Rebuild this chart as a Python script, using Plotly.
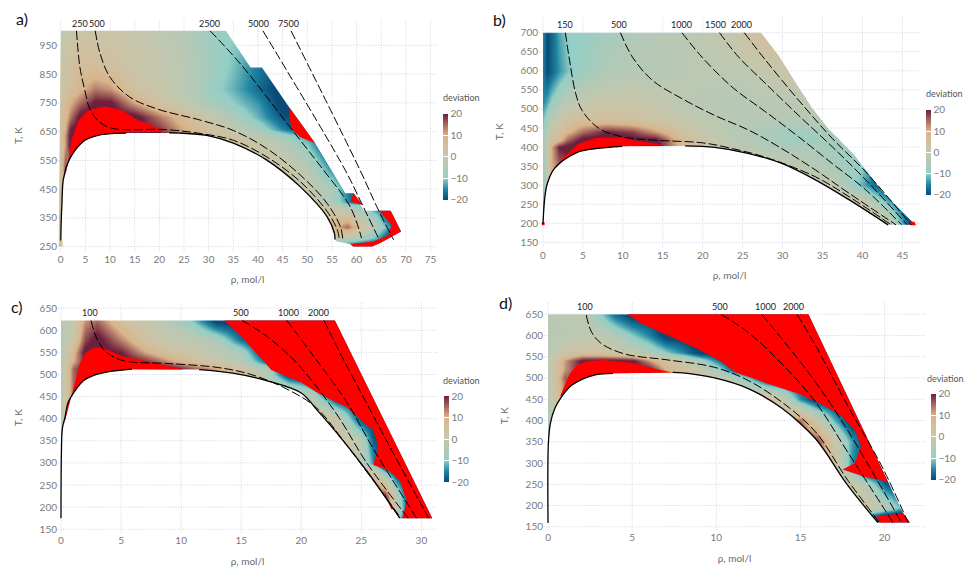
import numpy as np
import plotly.graph_objects as go

W, H = 964, 572
FONT = "Lato"
COLORSCALE = [[0, "#0a4a78"], [0.125, "#1f86a3"], [0.25, "#93cfc6"], [0.375, "#b2c9b8"],
              [0.5, "#c4c7ad"], [0.625, "#d0c09f"], [0.75, "#d9b48a"], [0.875, "#a8695f"], [1, "#6e1f3d"]]
RED = "#ff0000"

# ---------- panel a ----------
a_rho = [0, 1, 2, 4, 7, 10, 15, 20, 25, 30, 35, 40, 45, 50, 55, 58, 61, 64, 67, 70]
a_T = [250, 280, 320, 360, 395, 405, 450, 520, 600, 640, 660, 700, 750, 800, 870, 1000]
a_z = [
    [5, 5, 5, 5, 5, 5, 5, 5, 5, 5, 5, 5, 5, 5, -10, -20, -22, -22, -22, -22],
    [5, 5, 5, 5, 5, 5, 5, 5, 5, 5, 5, 5, 5, 5, 0, -3, -7, -12, -22, -22],
    [5, 5, 5, 5, 5, 5, 5, 5, 5, 5, 5, 5, 5, 5, 8, 15, 4, -5, -15, -22],
    [5, 5, 5, 5, 5, 5, 5, 5, 5, 5, 5, 5, 5, 5, 5, 4, -3, -10, -22, -22],
    [5, 5, 5, 5, 5, 5, 5, 5, 5, 5, 5, 5, 5, 5, -1, -8, -10, -18, -22, -22],
    [5, 5, 5, 5, 5, 5, 5, 5, 5, 5, 5, 5, 5, 2, -6, -14, -20, -22, -22, -22],
    [5, 5, 5, 5, 5, 5, 5, 5, 5, 5, 5, 5, 5, 0, -6, -16, -22, -22, -22, -22],
    [3, 18, 5, 5, 5, 5, 5, 5, 5, 5, 5, 5, 3, -3, -15, -22, -22, -22, -22, -22],
    [4, 12, 22, 22, 22, 22, 22, 22, 10, 8, 6, 2, -3, -10, -22, -22, -22, -22, -22, -22],
    [5, 12, 22, 22, 22, 22, 22, 22, 12, 6, 2, -3, -8, -14, -22, -22, -22, -22, -22, -22],
    [5, 10, 20, 22, 22, 22, 22, 18, 10, 4, -1, -7, -15, -22, -22, -22, -22, -22, -22, -22],
    [4, 8, 14, 22, 22, 22, 22, 14, 7, 1, -6, -12, -19, -22, -22, -22, -22, -22, -22, -22],
    [3, 7, 10, 15, 21, 21, 11, 4, -1, -6, -10, -14, -22, -22, -22, -22, -22, -22, -22, -22],
    [2, 4, 6, 9, 14, 12, 4, 1, -3, -8, -12, -17, -22, -22, -22, -22, -22, -22, -22, -22],
    [1, 3, 5, 7, 6, 5, 2, 0, -3, -7, -11, -16, -20, -22, -22, -22, -22, -22, -22, -22],
    [-1, 0, 1, 2, 2, 2, 1, -2, -4, -8, -10, -10, -10, -10, -10, -10, -10, -10, -10, -10],
]
a_dome_rho = [0.02, 0.1, 0.25, 0.53, 1.54, 2.9, 4.9, 7.6, 11, 13.3, None, 22, 24, 29.6, 35, 41.8, 48.6, 54, 55.5, 55.6]
a_dome_T = [272, 340, 400, 484, 545, 585, 620, 637, 644, 645, None, 646, 645, 637, 610, 551, 458, 355, 297, 275]
a_edge_rho = [33.5, 38.5, 40.8, 46.4, 51.6, 57.7, 59.4, 61.5, 66.9, 69, 64.8, 63.1, 59.3, 58.7, 57, 56]
a_edge_T = [1000, 873, 873, 733, 610, 436, 436, 375, 375, 303, 263, 251, 251, 260, 265, 268]
a_isobars = {
    "250": ([3.2, 3.9, 4.9, 5.9, 7.5, 10.3, 21.5, 28.5, 35, 41.8, 48.6, 54.3, 56.3, 56.4],
            [1000, 873, 793, 729, 689, 662, 657, 643, 620, 562, 476, 366, 297, 275]),
    "500": ([7, 8, 10, 14, 19.5, 28.5, 35, 41.8, 48.6, 54, 56.7, 57.2],
            [1000, 920, 839, 770, 729, 689, 654, 591, 499, 401, 320, 275]),
    "2500": ([30.3, 36.7, 47.2, 53.3, 58.7, 61], [1000, 880, 650, 516, 389, 280]),
    "5000": ([41, 57.7, 60.7, 64.6], [1000, 516, 412, 274]),
    "7500": ([46.7, 60.7, 64.1, 67.5], [1000, 516, 389, 274]),
}
a_label_rho = [3.9, 7.4, 30.2, 40.2, 46.1]
a_red = [
    ([0.7, 1.2, 2.2, 3.6, 5.6, 9, 12.4, 15.7, 18.2, 21, 13.5, 13.3, 11, 7.6, 4.9, 2.9, 1.54, 0.53],
     [491, 516, 620, 689, 724, 738, 724, 689, 675, 650, 648, 645, 644, 637, 620, 585, 545, 484]),
    ([46.4, 51.6, 48.5, 46.8, 46.4], [733, 610, 631, 660, 700]),
    ([59.4, 61.3, 58.7], [436, 395, 407]),
    ([64.4, 66.9, 69, 64.8, 63.1, 59.3, 58.7, 59, 63.4, 66.5, 67.1, 64.8],
     [375, 375, 303, 263, 251, 251, 260, 260, 268, 291, 326, 372]),
]

# ---------- panel b ----------
b_rho = [0, 0.5, 1, 2, 3, 5, 8, 11, 14, 17, 20, 24, 28, 32, 36, 40, 43, 46]
b_T = [195, 250, 300, 350, 400, 420, 440, 470, 520, 600, 700]
b_z = [
    [-15, -5, 5, 5, 5, 5, 5, 5, 5, 5, 5, 5, 5, 5, 3, 3, 3, -20],
    [-12, -5, 5, 5, 5, 5, 5, 5, 5, 5, 5, 5, 5, 3, 3, 3, -10, -22],
    [-10, 0, 5, 5, 5, 5, 5, 5, 5, 5, 5, 5, 5, 2, 0, -12, -22, -22],
    [-10, 0, 10, 15, 15, 5, 5, 5, 5, 5, 5, 5, 1, -2, -6, -10, -22, -22],
    [-9, 3, 10, 20, 22, 22, 22, 22, 22, 10, 0, -2, -5, -6, -7, -9, -14, -14],
    [-8, 0, 4, 8, 15, 22, 22, 22, 22, 8, 2, -3, -6, -8, -7, -7, -7, -7],
    [-10, -3, 2, 5, 9, 15, 20, 18, 12, 5, 0, -4, -6, -8, -6, -5, -5, -5],
    [-11, -7, -3, 1, 4, 6, 6, 5, 3, 0, -2, -4, -4, -4, -3, -3, -3, -3],
    [-15, -13, -10, -6, -3, -1, 1, 1, 0, -2, -3, -4, -3, -2, -1, -1, -1, -1],
    [-16, -20, -18, -14, -11, -8, -5, -4, -4, -3, -2, -2, 0, 3, 6, 6, 6, 6],
    [-15, -20, -18, -13, -10, -9, -7, -5, -4, -3, -2, 1, 7, 9, 9, 9, 9, 9],
]
b_dome_rho = [0.0, 0.2, 0.5, 1.3, 2.6, 4.5, 6.6, 9.9, None, 17.8, 21.5, 25.8, 29.9, 34.1, 38.3, 43.2]
b_dome_T = [198, 262, 301, 340, 366, 388, 396, 402, None, 403, 399, 383, 357, 314, 262, 196]
b_edge_rho = [27.3, 29.5, 31.6, 33.6, 35.7, 38.9, 42.5, 46.6]
b_edge_T = [700, 640, 570, 505, 449, 381, 283, 196]
b_isobars = {
    "150": ([2.8, 3.4, 4.1, 4.9, 7, 9.9, 14, 20, 23.7, 27.9, 34.1, 38.3, 43.6],
            [700, 618, 540, 496, 449, 427, 418, 411, 396, 373, 322, 270, 196]),
    "500": ([9.7, 11.2, 13.7, 17.4, 21.5, 25.8, 29.9, 34.1, 38.3, 44.2],
            [700, 636, 575, 527, 483, 444, 396, 340, 279, 196]),
    "1000": ([17.4, 19.9, 23.7, 27.9, 32, 36.2, 40.4, 44.9], [700, 636, 557, 492, 427, 357, 288, 196]),
    "1500": ([22.1, 24.5, 27.9, 32, 36.2, 40.4, 45.6], [700, 636, 566, 483, 401, 314, 196]),
    "2000": ([25.2, 27.9, 32, 36.2, 40.4, 46.1], [700, 627, 523, 423, 335, 196]),
}
b_label_rho = [2.7, 9.5, 17.3, 21.6, 24.8]
b_red = [
    ([1.3, 2.4, 4.5, 6.6, 9.9, 11.2, 15, 9.9, 6.6, 4.5, 2.6], [340, 370, 409, 424, 425, 418, 406, 402, 396, 388, 366]),
    ([-0.15, 0.2, 0.2, -0.15], [195, 195, 203, 203]),
    ([45.9, 46.7, 46.5, 46], [195, 195, 204, 204]),
]

# ---------- panel c ----------
c_rho = [0, 1, 2, 3, 5, 7, 9, 11, 13, 15, 17, 19, 21, 23, 25, 26, 27, 28, 29, 31]
c_T = [175, 200, 225, 250, 280, 293, 300, 350, 400, 450, 500, 515, 530, 550, 580, 622]
c_z = [
    [-4, 0, 0, 0, 0, 0, 0, 0, 0, 0, 0, 0, 0, 0, 0, 0, 20, -8, -22, -22],
    [-4, 0, 0, 0, 0, 0, 0, 0, 0, 0, 0, 0, 0, 0, 0, 0, 20, -2, -22, -22],
    [-4, 0, 0, 0, 0, 0, 0, 0, 0, 0, 0, 0, 0, 0, 5, 8, 20, -5, -22, -22],
    [-4, 0, 0, 0, 0, 0, 0, 0, 0, 0, 0, 0, 0, 0, 8, 16, 6, -12, -22, -22],
    [-4, 0, 0, 0, 0, 0, 0, 0, 0, 0, 0, 0, 0, 0, 5, 2, -12, -22, -22, -22],
    [-4, 0, 0, 0, 0, 0, 0, 0, 0, 0, 0, 0, 0, 0, 3, -6, -22, -22, -22, -22],
    [-4, 0, 0, 0, 0, 0, 0, 0, 0, 0, 0, 0, 0, 8, -2, -14, -22, -22, -22, -22],
    [-4, 10, 10, 10, 10, 10, 10, 10, 10, 10, 10, 10, 10, 6, -3, -18, -22, -22, -22, -22],
    [-4, 12, 12, 12, 12, 12, 12, 12, 12, 12, 12, 12, 8, 0, -20, -22, -22, -22, -22, -22],
    [-4, 15, 15, 15, 15, 15, 15, 15, 12, 10, 8, 6, -6, -22, -22, -22, -22, -22, -22, -22],
    [-4, 15, 22, 22, 22, 22, 22, 18, 12, 6, -3, -22, -22, -22, -22, -22, -22, -22, -22, -22],
    [-4, 15, 22, 22, 22, 22, 22, 16, 10, 4, -6, -22, -22, -22, -22, -22, -22, -22, -22, -22],
    [-4, 10, 20, 22, 22, 19, 12, 6, 1, -4, -16, -22, -22, -22, -22, -22, -22, -22, -22, -22],
    [-4, 8, 22, 22, 20, 11, 5, 1, -2, -6, -22, -22, -22, -22, -22, -22, -22, -22, -22, -22],
    [-4, 2, 17, 22, 13, 4, 0, -2, -6, -17, -22, -22, -22, -22, -22, -22, -22, -22, -22, -22],
    [-3, 0, 12, 15, 5, 0, -4, -11, -22, -22, -22, -22, -22, -22, -22, -22, -22, -22, -22, -22],
]
c_dome_rho = [0.0, 0.03, 0.11, 0.33, 0.6, 1.16, 1.86, 2.83, 3.9, 5.9, None, 11.5, 14.3, 17.1, 20, 21.3, 22.8, 25.5, 28.2]
c_dome_T = [175, 317, 377, 403, 437, 463, 486, 499, 506, 512, None, 511, 503, 486, 458, 420, 373, 280, 175]
c_edge_rho = [22.8, 30.9]
c_edge_T = [622, 175]
c_isobars = {
    "100": ([2.5, 3, 3.8, 5.2, 8.8, 13, 15.7, 18.5, 21.2, 24, 28.3],
            [622, 580, 550, 531, 525, 516, 501, 471, 426, 332, 175]),
    "500": ([15.1, 17.1, 19.3, 21.2, 23.2, 25.4, 28.9], [622, 587, 535, 475, 400, 302, 175]),
    "1000": ([18.8, 21.2, 23.8, 26, 29.6], [622, 535, 437, 332, 175]),
    "2000": ([21.9, 23.2, 25.4, 27.6, 30.6], [622, 550, 437, 325, 175]),
}
c_label_rho = [2.4, 15, 18.9, 21.4]
c_red = [
    ([13.6, 22.8, 30.9, 28.4, 28.8, 28.2, 27.2, 26, 26.3, 26.3, 26, 25, 23.8, 21.5, 20, 17.5, 17.1, 15.2],
     [622, 622, 175, 175, 213, 261, 284, 295, 325, 347, 373, 396, 426, 456, 482, 510, 523, 580]),
    ([0.27, 0.75, 1.16, 1.6, 2.1, 2.83, 3.66, 5, 7, 8.3, 10.2, 5.9, 3.9, 2.83, 1.86, 1.16, 0.6, 0.33],
     [388, 437, 482, 527, 550, 561, 559, 542, 531, 523, 511, 512, 506, 499, 486, 463, 437, 403]),
    ([26.6, 27.2, 27.7, 27.5], [250, 215, 195, 195]),
]

# ---------- panel d ----------
d_rho = [0, 1, 2, 3, 4, 5, 6, 7, 8, 9, 10, 11, 12, 13, 14, 15, 16, 17, 18, 19, 20, 21, 22]
d_T = [160, 180, 195, 250, 280, 290, 350, 400, 450, 500, 520, 540, 560, 600, 650]
d_z = [
    [-3, 0, 0, 0, 0, 0, 0, 0, 0, 0, 0, 0, 0, 0, 0, 0, 0, 0, 0, -15, -22, -22, -22],
    [-3, 0, 0, 0, 0, 0, 0, 0, 0, 0, 0, 0, 0, 0, 0, 0, 0, 0, 0, -12, -20, -22, -22],
    [-3, 0, 0, 0, 0, 0, 0, 0, 0, 0, 0, 0, 0, 0, 0, 0, 0, 0, 5, 3, -3, -12, -12],
    [-3, 0, 0, 0, 0, 0, 0, 0, 0, 0, 0, 0, 0, 0, 0, 0, 0, 8, 2, -5, -18, -22, -22],
    [-3, 0, 0, 0, 0, 0, 0, 0, 0, 0, 0, 0, 0, 0, 0, 0, 0, 5, -8, -22, -22, -22, -22],
    [-3, 0, 0, 0, 0, 0, 0, 0, 0, 0, 0, 0, 0, 0, 0, 0, 10, 6, -14, -22, -22, -22, -22],
    [-3, 0, 0, 0, 0, 0, 0, 0, 0, 0, 0, 0, 0, 0, 0, 15, 18, 2, -13, -22, -22, -22, -22],
    [-5, 0, 0, 0, 0, 0, 0, 0, 0, 0, 0, 0, 0, 0, 10, 15, 2, -12, -22, -22, -22, -22, -22],
    [-3, 12, 5, 5, 5, 5, 5, 5, 5, 5, 5, 5, 8, 8, -1, -14, -22, -22, -22, -22, -22, -22, -22],
    [-3, 16, 15, 15, 15, 15, 15, 15, 10, 4, 1, -5, -12, -22, -22, -22, -22, -22, -22, -22, -22, -22, -22],
    [-3, 12, 21, 22, 22, 22, 21, 10, 5, 0, -6, -18, -22, -22, -22, -22, -22, -22, -22, -22, -22, -22, -22],
    [-1, 12, 21, 22, 22, 21, 12, 4, 0, -6, -15, -22, -22, -22, -22, -22, -22, -22, -22, -22, -22, -22, -22],
    [-3, 2, 5, 4, 2, -1, -5, -10, -15, -22, -22, -22, -22, -22, -22, -22, -22, -22, -22, -22, -22, -22, -22],
    [-3, -3, -2, -2, -5, -10, -15, -22, -22, -22, -22, -22, -22, -22, -22, -22, -22, -22, -22, -22, -22, -22, -22],
    [-3, -2, -2, -9, -17, -22, -22, -22, -22, -22, -22, -22, -22, -22, -22, -22, -22, -22, -22, -22, -22, -22, -22],
]
d_dome_rho = [0.0, 0.02, 0.14, 0.4, 0.79, 1.38, 2.08, 2.87, 3.86, None, 7.4, 8.0, 9.9, 11.9, 13.9, 15.9, 17.8, 19.6]
d_dome_T = [159, 346, 393, 428, 455, 482, 498, 508, 511, None, 513, 512, 500, 475, 429, 357, 248, 160]
d_edge_rho = [15.47, 20.2, 21.1, 21.5]
d_edge_T = [650, 256, 182, 160]
d_isobars = {
    "100": ([2.27, 2.6, 3.2, 4.6, 7, 9.9, 11.9, 13.9, 15.9, 17.8, 19.7],
            [648, 607, 580, 556, 543, 525, 494, 443, 373, 260, 160]),
    "500": ([10.3, 11.9, 13.9, 15.9, 17.8, 20.5], [649, 607, 533, 443, 326, 160]),
    "1000": ([12.7, 13.9, 15.9, 17.8, 21.0], [649, 592, 490, 377, 160]),
    "2000": ([14.8, 15.9, 17.8, 19.8, 21.4], [649, 576, 435, 295, 160]),
}
d_label_rho = [2.2, 10.2, 12.9, 14.6]
d_red = [
    ([4.7, 15.47, 20.2, 18.8, 17.5, 18.2, 18.6, 18.3, 17.5, 16.4, 14.9, 13.1, 11.1, 10.3, 8.9, 7.2, 5.6],
     [650, 650, 256, 268, 285, 299, 338, 373, 408, 435, 463, 486, 514, 538, 568, 599, 627]),
    ([19.5, 20.4, 21.1, 21.5, 19.7], [174, 178, 182, 160, 160]),
    ([0.73, 1, 1.29, 1.68, 2.27, 3.26, 5.05, 6.4, 7.4, 3.86, 2.87, 2.08, 1.38, 0.79],
     [459, 482, 510, 529, 539, 542, 535, 521, 513, 511, 508, 498, 482, 455]),
]

# ---------- layout of the four panels (pixels on the page) ----------
panels = [
    dict(name="a", rho=a_rho, T=a_T, z=a_z, dome=(a_dome_rho, a_dome_T), edge=(a_edge_rho, a_edge_T),
         iso=a_isobars, lab=a_label_rho, laby=1024, red=a_red, top=1000,
         px=(58, 437), py=(19, 252), xr=(-0.55, 76.3), yr=(233, 1038),
         xt=list(range(0, 76, 5)), yt=list(range(250, 951, 100)), cb=(443, 114, 199.6), cbt=(443, 97), letter=(22, 18),
         extra=[(0.4, 272), (0.4, 250), (-0.4, 250), (-0.4, 272)]),
    dict(name="b", rho=b_rho, T=b_T, z=b_z, dome=(b_dome_rho, b_dome_T), edge=(b_edge_rho, b_edge_T),
         iso=b_isobars, lab=b_label_rho, laby=722, red=b_red, top=700,
         px=(539, 920), py=(15, 248), xr=(-0.5, 47.2), yr=(136, 744),
         xt=list(range(0, 46, 5)), yt=list(range(150, 701, 50)), cb=(926, 110, 195), cbt=(926, 93), letter=(499, 19), extra=[]),
    dict(name="c", rho=c_rho, T=c_T, z=c_z, dome=(c_dome_rho, c_dome_T), edge=(c_edge_rho, c_edge_T),
         iso=c_isobars, lab=c_label_rho, laby=640, red=c_red, top=622,
         px=(58, 437), py=(303, 535), xr=(-0.25, 31.3), yr=(141, 663),
         xt=list(range(0, 31, 5)), yt=list(range(150, 651, 50)), cb=(444, 397.7, 483.7), cbt=(443, 381), letter=(17, 307), extra=[]),
    dict(name="d", rho=d_rho, T=d_T, z=d_z, dome=(d_dome_rho, d_dome_T), edge=(d_edge_rho, d_edge_T),
         iso=d_isobars, lab=d_label_rho, laby=669, red=d_red, top=650,
         px=(544, 925), py=(302, 532), xr=(-0.24, 22.4), yr=(142, 680),
         xt=list(range(0, 21, 5)), yt=list(range(150, 651, 50)), cb=(931, 395.7, 481.3), cbt=(927, 379), letter=(505, 303), extra=[]),
]


def inside(x, y, px, py):
    x, y = np.asarray(x, float), np.asarray(y, float)
    px, py = np.asarray(px, float), np.asarray(py, float)
    res = np.zeros(x.shape, bool)
    j = len(px) - 1
    for i in range(len(px)):
        with np.errstate(divide="ignore", invalid="ignore"):
            cross = ((py[i] > y) != (py[j] > y)) & (x < (px[j] - px[i]) * (y - py[i]) / (py[j] - py[i]) + px[i])
        res ^= cross
        j = i
    return res


fig = go.Figure()
layout = dict(width=W, height=H, margin=dict(l=0, r=0, t=0, b=0), autosize=False,
              paper_bgcolor="white", plot_bgcolor="white", showlegend=False,
              font=dict(family=FONT, size=10, color="#7a7a7a"))
annotations = []

for i, p in enumerate(panels):
    sx = "" if i == 0 else str(i + 1)
    xa, ya = "x" + sx, "y" + sx
    layout["xaxis" + sx] = dict(domain=[p["px"][0] / W, p["px"][1] / W], range=list(p["xr"]), anchor=ya,
                                tickvals=p["xt"], showgrid=False, zeroline=False, showline=False, ticks="",
                                tickfont=dict(size=10, color="#7a7a7a"),
                                title=dict(text="ρ, mol/l", standoff=12, font=dict(size=10, color="#6a6a6a")))
    layout["yaxis" + sx] = dict(domain=[1 - p["py"][1] / H, 1 - p["py"][0] / H], range=list(p["yr"]), anchor=xa,
                                tickvals=p["yt"], showgrid=False, zeroline=False, showline=False, ticks="",
                                tickfont=dict(size=10, color="#7a7a7a"),
                                title=dict(text="T, K", standoff=15, font=dict(size=10, color="#6a6a6a")))
    cbx, cbt, cbb = p["cb"]
    fig.add_trace(go.Heatmap(
        x=p["rho"], y=p["T"], z=p["z"], xaxis=xa, yaxis=ya, zmin=-20, zmax=20, zsmooth="best",
        colorscale=COLORSCALE, hoverinfo="skip",
        colorbar=dict(x=cbx / W, xanchor="left", y=1 - cbb / H, yanchor="bottom", lenmode="pixels", len=cbb - cbt,
                      thickness=5, thicknessmode="pixels", outlinewidth=0, xpad=0, ypad=0, ticks="inside", ticklen=5,
                      tickcolor="white", tickwidth=1, tickvals=[-20, -10, 0, 10, 20],
                      tickfont=dict(size=10, color="#7a7a7a"))))
    annotations.append(dict(x=p["cbt"][0] / W, y=1 - p["cbt"][1] / H, xref="paper", yref="paper", text="deviation",
                            showarrow=False, xanchor="left", yanchor="middle", xshift=-2,
                            font=dict(size=9, color="#555555")))

    # domain outline: top edge, right edge, then back over the saturation dome
    ex, ey = p["edge"]
    dx, dy = p["dome"]
    dxc = [v for v in dx if v is not None]
    dyc = [v for v in dy if v is not None]
    ox = [0] + list(ex) + dxc[::-1] + [q[0] for q in p["extra"]]
    oy = [p["top"]] + list(ey) + dyc[::-1] + [q[1] for q in p["extra"]]
    # white mask over everything outside the domain (rectangle, slit, reversed outline -> hole)
    x0, x1 = p["xr"]
    y0, y1 = p["yr"]
    mx = [x0, x1, x1, x0, x0] + [ox[0]] + ox[::-1] + [x0]
    my = [y1, y1, y0, y0, y1] + [oy[0]] + oy[::-1] + [y1]
    fig.add_trace(go.Scatter(x=mx, y=my, xaxis=xa, yaxis=ya, mode="lines", fill="toself", fillcolor="white",
                             line=dict(width=0, color="white"), hoverinfo="skip"))

    # dotted grid, visible only outside the domain
    gx, gy = [], []
    for v in p["xt"]:
        ys = np.linspace(y0, y1, 500)
        out = ~inside(np.full(ys.shape, float(v)), ys, ox, oy)
        for k in range(len(ys)):
            gx.append(float(v) if out[k] else None)
            gy.append(float(ys[k]) if out[k] else None)
        gx.append(None); gy.append(None)
    for v in p["yt"]:
        xs = np.linspace(x0, x1, 600)
        out = ~inside(xs, np.full(xs.shape, float(v)), ox, oy)
        for k in range(len(xs)):
            gx.append(float(xs[k]) if out[k] else None)
            gy.append(float(v) if out[k] else None)
        gx.append(None); gy.append(None)
    fig.add_trace(go.Scatter(x=gx, y=gy, xaxis=xa, yaxis=ya, mode="lines", hoverinfo="skip",
                             line=dict(color="#d3d3e6", width=1, dash="1px,1.5px")))

    for rx, ry in p["red"]:
        fig.add_trace(go.Scatter(x=rx, y=ry, xaxis=xa, yaxis=ya, mode="lines", fill="toself", fillcolor=RED,
                                 line=dict(width=0, color=RED), hoverinfo="skip"))
    for (name, (ix, iy)), lx in zip(p["iso"].items(), p["lab"]):
        fig.add_trace(go.Scatter(x=ix, y=iy, xaxis=xa, yaxis=ya, mode="lines", name=name, hoverinfo="skip",
                                 line=dict(color="black", width=1.0, dash="9px,3px", shape="spline", smoothing=1.0)))
        annotations.append(dict(x=lx, y=p["laby"], xref=xa, yref=ya, text=name, showarrow=False,
                                font=dict(size=9, color="#1a1a1a"), xanchor="center", yanchor="middle"))
    fig.add_trace(go.Scatter(x=dx, y=dy, xaxis=xa, yaxis=ya, mode="lines", hoverinfo="skip",
                             line=dict(color="black", width=1.3, shape="spline", smoothing=1.0)))
    annotations.append(dict(x=p["letter"][0] / W, y=1 - p["letter"][1] / H, xref="paper", yref="paper",
                            text=p["name"] + ")", showarrow=False, font=dict(size=16, color="#111111"),
                            xanchor="center", yanchor="middle"))

layout["annotations"] = annotations
fig.update_layout(**layout)
fig.write_html("out.html", config={"displayModeBar": False},
               post_script="document.body.style.margin='0';document.documentElement.style.overflow='hidden';")
